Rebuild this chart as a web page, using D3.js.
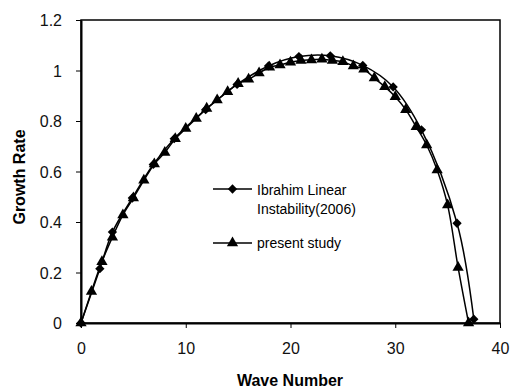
<!DOCTYPE html>
<html>
<head>
<meta charset="utf-8">
<script src="https://cdn.jsdelivr.net/npm/d3@7"></script>
<style>
  body { margin: 0; background: #fff; }
  text { font-family: "Liberation Sans", Arial, sans-serif; }
</style>
</head>
<body>
<svg id="chart" width="510" height="389"></svg>
<script>
// present study (triangles)
let studyX = [0,1,2,3,4,5,6,7,8,9,10,11,12,13,14,15,16,17,18,19,20,21,22,23,24,25,26,27,28,29,30,31,32,33,34,35,36,37];
let studyY = [0,0.125,0.243,0.34,0.428,0.495,0.565,0.63,0.675,0.73,0.77,0.81,0.85,0.883,0.916,0.948,0.965,0.99,1.013,1.022,1.033,1.04,1.042,1.045,1.04,1.035,1.018,1.005,0.97,0.936,0.896,0.845,0.777,0.705,0.606,0.467,0.22,0];
// Ibrahim Linear Instability (2006) (diamonds)
let ibrahimX = [0,1.8,3,4.9,6.9,8.9,11.9,14.9,17.9,20.8,23.8,26.9,29.8,32.5,35.9,37.5];
let ibrahimY = [0,0.215,0.36,0.495,0.628,0.73,0.845,0.945,1.018,1.055,1.058,1.02,0.935,0.765,0.395,0.015];
let xTicks = [0,10,20,30,40];
let yTicks = [0,0.2,0.4,0.6,0.8,1,1.2];

let svg = d3.select("#chart");
let plotLeft = 81, plotRight = 500, plotTop = 20, plotBottom = 323;

let xScale = d3.scaleLinear().domain([0, 40]).range([plotLeft, plotRight]);
let yScale = d3.scaleLinear().domain([0, 1.2]).range([plotBottom, plotTop]);

// plot frame
svg.append("rect")
  .attr("x", plotLeft).attr("y", plotTop)
  .attr("width", plotRight - plotLeft).attr("height", plotBottom - plotTop)
  .attr("fill", "none").attr("stroke", "#000").attr("stroke-width", 1.5);

let xAxis = d3.axisBottom(xScale).tickValues(xTicks).tickSize(5).tickSizeOuter(0).tickFormat(d3.format("d"));
let gx = svg.append("g").attr("transform", "translate(0," + plotBottom + ")").call(xAxis);
let yAxis = d3.axisLeft(yScale).tickValues(yTicks).tickSize(5).tickSizeOuter(0).tickFormat(d => d === 0 ? "0" : d3.format("")(d));
let gy = svg.append("g").attr("transform", "translate(" + plotLeft + ",0)").call(yAxis);

[gx, gy].forEach(g => {
  g.select(".domain").attr("stroke", "#000").attr("stroke-width", 2);
  g.selectAll(".tick line").attr("stroke", "#000").attr("stroke-width", 1);
  g.selectAll(".tick text").attr("fill", "#111").style("font-size", "16px")
    .style("font-family", "'Liberation Sans', Arial, sans-serif");
});
gx.selectAll(".tick text").attr("y", 31).attr("dy", 0);
gy.selectAll(".tick text").attr("x", -19).attr("dy", "0.36em");

// axis titles
svg.append("text")
  .attr("x", 290).attr("y", 386)
  .attr("text-anchor", "middle")
  .style("font-size", "16px").style("font-weight", "bold")
  .text("Wave Number");
svg.append("text")
  .attr("transform", "translate(25,177) rotate(-90)")
  .attr("text-anchor", "middle")
  .style("font-size", "16px").style("font-weight", "bold")
  .text("Growth Rate");

let line = d3.line()
  .x(d => xScale(d[0]))
  .y(d => yScale(d[1]))
  .curve(d3.curveCatmullRom.alpha(0.5));

let studyData = studyX.map((x, i) => [x, studyY[i]]);
let ibrahimData = ibrahimX.map((x, i) => [x, ibrahimY[i]]);

let diamond = d3.symbol().type(d3.symbolDiamond2).size(55);
let triangle = d3.symbol().type(d3.symbolTriangle).size(55);

svg.append("path").datum(ibrahimData)
  .attr("d", line).attr("fill", "none").attr("stroke", "#000").attr("stroke-width", 1.5);
svg.append("path").datum(studyData)
  .attr("d", line).attr("fill", "none").attr("stroke", "#000").attr("stroke-width", 1.5);

svg.append("g").selectAll("path").data(ibrahimData).enter().append("path")
  .attr("d", diamond)
  .attr("transform", d => "translate(" + xScale(d[0]) + "," + yScale(d[1]) + ")")
  .attr("fill", "#000");
svg.append("g").selectAll("path").data(studyData).enter().append("path")
  .attr("d", triangle)
  .attr("transform", d => "translate(" + xScale(d[0]) + "," + yScale(d[1]) + ")")
  .attr("fill", "#000");

// legend
let legend = svg.append("g");
legend.append("line").attr("x1", 213).attr("x2", 252).attr("y1", 189).attr("y2", 189)
  .attr("stroke", "#000").attr("stroke-width", 1.5);
legend.append("path").attr("d", diamond).attr("transform", "translate(232.5,189)");
legend.append("text").attr("x", 257).attr("y", 195).style("font-size", "14px").text("Ibrahim Linear");
legend.append("text").attr("x", 257).attr("y", 214).style("font-size", "14px").text("Instability(2006)");
legend.append("line").attr("x1", 213).attr("x2", 252).attr("y1", 243).attr("y2", 243)
  .attr("stroke", "#000").attr("stroke-width", 1.5);
legend.append("path").attr("d", triangle).attr("transform", "translate(232.5,243)");
legend.append("text").attr("x", 257).attr("y", 248).style("font-size", "14px").text("present study");
</script>
</body>
</html>
